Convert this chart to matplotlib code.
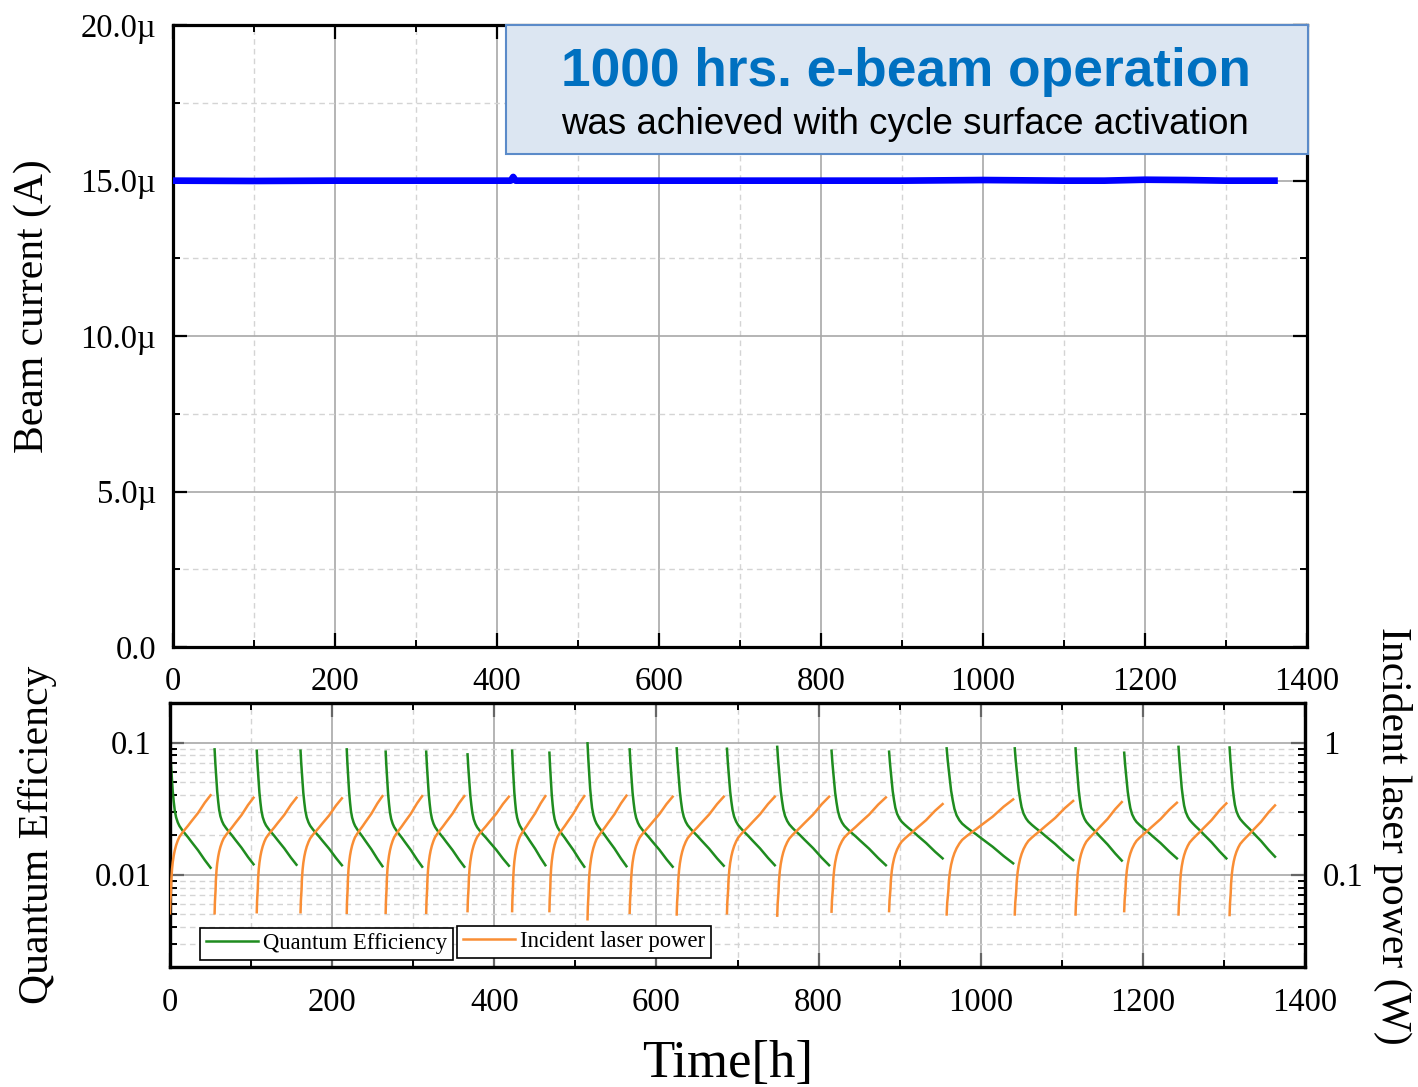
import numpy as np
import matplotlib
matplotlib.use('Agg')
import matplotlib.pyplot as plt
from matplotlib.ticker import MultipleLocator, FuncFormatter, LogLocator, NullFormatter
from matplotlib.patches import Rectangle
from matplotlib.lines import Line2D

plt.rcParams['font.family'] = ['Liberation Serif', 'DejaVu Serif']

# ---- data ----
# beam current (uA) over time (h)
beam_t = [0, 100, 200, 300, 400, 417, 420, 423, 500, 600, 700, 800, 900, 1000, 1100, 1150, 1200, 1250, 1300, 1364]
beam_i = [15.0, 14.99, 15.0, 15.0, 15.0, 15.0, 15.12, 15.0, 15.0, 15.0, 15.0, 15.0, 15.0, 15.02, 15.0, 15.0, 15.03, 15.02, 15.0, 15.0]

# activation cycles (h)
cycle_start = [0, 55, 107, 161, 218, 266, 316, 367, 422, 468, 515, 567, 625, 687,
               749, 816, 887, 958, 1042, 1117, 1177, 1244, 1307]
cycle_end = [50, 103, 156, 212, 262, 311, 363, 418, 463, 511, 563, 620, 683, 746,
             813, 883, 953, 1040, 1114, 1174, 1242, 1303, 1363]
# quantum efficiency at start / end of each cycle
qe_peak = [0.093, 0.089, 0.087, 0.087, 0.089, 0.0855, 0.0855, 0.0816, 0.087, 0.084, 0.099, 0.089,
           0.0906, 0.090, 0.093, 0.087, 0.0855, 0.0906, 0.0906, 0.0906, 0.084, 0.093, 0.092]
qe_end = [0.0113, 0.0120, 0.0119, 0.0118, 0.0116, 0.0115, 0.0115, 0.0117, 0.0118, 0.0115, 0.0116, 0.0115,
          0.0117, 0.0118, 0.0118, 0.0118, 0.0133, 0.0122, 0.0129, 0.0128, 0.0133, 0.0133, 0.0137]
# incident laser power (W) at start / end of each cycle
laser_start = [0.051, 0.051, 0.052, 0.052, 0.0515, 0.0515, 0.0515, 0.053, 0.053, 0.053, 0.046, 0.0515,
               0.050, 0.051, 0.049, 0.0525, 0.053, 0.050, 0.050, 0.050, 0.053, 0.050, 0.0495]
laser_end = [0.40, 0.383, 0.383, 0.379, 0.394, 0.394, 0.394, 0.390, 0.394, 0.394, 0.397, 0.390,
             0.390, 0.390, 0.390, 0.385, 0.343, 0.372, 0.362, 0.355, 0.351, 0.347, 0.335]

# shape of one cycle (read from the 55-103 h cycle):
# fraction of the cycle time vs fraction of the log change
qe_shape_t = [0, .0167, .033, .05, .067, .092, .117, .15, .192, .233, .292, .358, .442, .525, .692, .858, 1]
qe_shape_f = [0, .109, .195, .282, .368, .454, .526, .583, .626, .655, .684, .713, .747, .784, .856, .937, 1]
laser_shape_t = [0, .0083, .025, .033, .05, .067, .092, .117, .15, .192, .233, .292, .358, .442, .525, .692, .858, 1]
laser_shape_f = [0, .101, .202, .288, .375, .432, .490, .533, .576, .617, .648, .677, .706, .741, .778, .850, .937, 1]

GREEN = '#1f8c1f'
ORANGE = '#f98e35'

fig = plt.figure(figsize=(14.18, 10.87), dpi=100)
ax1 = fig.add_axes([0.122, 0.4048, 0.7997, 0.572])
ax2 = fig.add_axes([0.1199, 0.1104, 0.8004, 0.2429])
ax3 = ax2.twinx()


def style_axes(ax, labelsize=23.5):
    for s in ax.spines.values():
        s.set_linewidth(2.3)
        s.set_color('black')
    ax.tick_params(which='both', direction='in', labelsize=labelsize)
    ax.tick_params(which='major', length=10, width=1.6)
    ax.tick_params(which='minor', length=5, width=1.4)


# ---- top panel: beam current ----
ax1.plot(beam_t, beam_i, color='#0000ff', lw=4.8, solid_capstyle='butt', zorder=4)
ax1.set_xlim(0, 1400)
ax1.set_ylim(0, 20)
ax1.xaxis.set_major_locator(MultipleLocator(200))
ax1.xaxis.set_minor_locator(MultipleLocator(100))
ax1.yaxis.set_major_locator(MultipleLocator(5))
ax1.yaxis.set_minor_locator(MultipleLocator(2.5))
ax1.yaxis.set_major_formatter(FuncFormatter(lambda v, p: '0.0' if v == 0 else '%.1f\u00b5' % v))
ax1.set_axisbelow(True)
ax1.grid(which='major', color='#a8a8a8', lw=1.2)
ax1.grid(which='minor', color='#d4d4d4', lw=1.0, ls=(0, (4, 3)))
style_axes(ax1)
ax1.tick_params(which='both', top=True, right=True)
ax1.tick_params(axis='x', pad=14)
ax1.tick_params(axis='y', pad=12)

box = Rectangle((411, 15.85), 990, 4.15, facecolor='#dce6f2', edgecolor='#5b8bc9',
                lw=1.5, zorder=5, clip_on=False)
ax1.add_patch(box)
fig.text(906 / 1418, 1 - 86 / 1087, '1000 hrs. e-beam operation', ha='center', va='baseline',
         fontsize=38.3, fontweight='bold', color='#0070c0', family=['Liberation Sans', 'DejaVu Sans'], zorder=6)
fig.text(905 / 1418, 1 - 134.3 / 1087, 'was achieved with cycle surface activation', ha='center',
         va='baseline', fontsize=26.5, color='black', family=['Liberation Sans', 'DejaVu Sans'], zorder=6)

# ---- bottom panel: QE and laser power ----
for i in range(len(cycle_start)):
    t0, t1 = cycle_start[i], cycle_end[i]
    tq = t0 + (t1 - t0) * np.array(qe_shape_t)
    lq = np.log10(qe_peak[i]) + np.array(qe_shape_f) * (np.log10(qe_end[i]) - np.log10(qe_peak[i]))
    ax2.plot(tq, 10 ** lq, color=GREEN, lw=1.8, zorder=3)
    tl = t0 + (t1 - t0) * np.array(laser_shape_t)
    ll = np.log10(laser_start[i]) + np.array(laser_shape_f) * (np.log10(laser_end[i]) - np.log10(laser_start[i]))
    ax3.plot(tl, 10 ** ll, color=ORANGE, lw=1.8, zorder=3)

ax2.set_xlim(0, 1400)
ax2.set_yscale('log')
ax2.set_ylim(0.002, 0.2)
ax3.set_yscale('log')
ax3.set_ylim(0.02, 2)
ax2.xaxis.set_major_locator(MultipleLocator(200))
ax2.xaxis.set_minor_locator(MultipleLocator(100))
ax2.set_yticks([0.01, 0.1])
ax2.set_yticklabels(['0.01', '0.1'])
ax3.set_yticks([0.1, 1])
ax3.set_yticklabels(['0.1', '1'])
for a in (ax2, ax3):
    a.yaxis.set_minor_locator(LogLocator(base=10, subs=np.arange(2, 10)))
    a.yaxis.set_minor_formatter(NullFormatter())
ax2.set_axisbelow(True)
ax2.grid(which='major', color='#a8a8a8', lw=1.2)
ax2.grid(which='minor', color='#d4d4d4', lw=1.0, ls=(0, (4, 3)))
style_axes(ax2)
style_axes(ax3)
ax2.tick_params(which='both', top=True, right=False)
ax2.tick_params(which='major', color='#666666')
ax3.tick_params(which='major', color='#666666')
ax2.tick_params(axis='x', pad=15)
ax2.tick_params(axis='y', pad=13)
ax3.tick_params(axis='y', pad=13)

h1 = Line2D([], [], color=GREEN, lw=1.8)
h2 = Line2D([], [], color=ORANGE, lw=1.8)
leg_kw = dict(loc='lower left', borderaxespad=0, fontsize=16.3, fancybox=False, framealpha=1,
              edgecolor='black', handlelength=2.3, handletextpad=0.25, borderpad=0.25)
leg1 = ax3.legend([h1], ['Quantum Efficiency'], bbox_to_anchor=(0.0264, 0.0265), **leg_kw)
leg1.get_frame().set_linewidth(1.2)
ax3.add_artist(leg1)
leg2 = ax3.legend([h2], ['Incident laser power'], bbox_to_anchor=(0.2529, 0.034), **leg_kw)
leg2.get_frame().set_linewidth(1.2)

# ---- axis titles ----
fig.text(33 / 1418, 1 - 306 / 1087, 'Beam current (A)', rotation=90, ha='center', va='center', fontsize=30)
fig.text(37.5 / 1418, 1 - 835 / 1087, 'Quantum Efficiency', rotation=90, ha='center', va='center', fontsize=30)
fig.text(1393 / 1418, 1 - 835.5 / 1087, 'Incident laser power (W)', rotation=-90, ha='center', va='center',
         fontsize=30)
fig.text(728 / 1418, 1 - 1076.7 / 1087, 'Time[h]', ha='center', va='baseline', fontsize=38)

fig.savefig('out.png', dpi=100)
